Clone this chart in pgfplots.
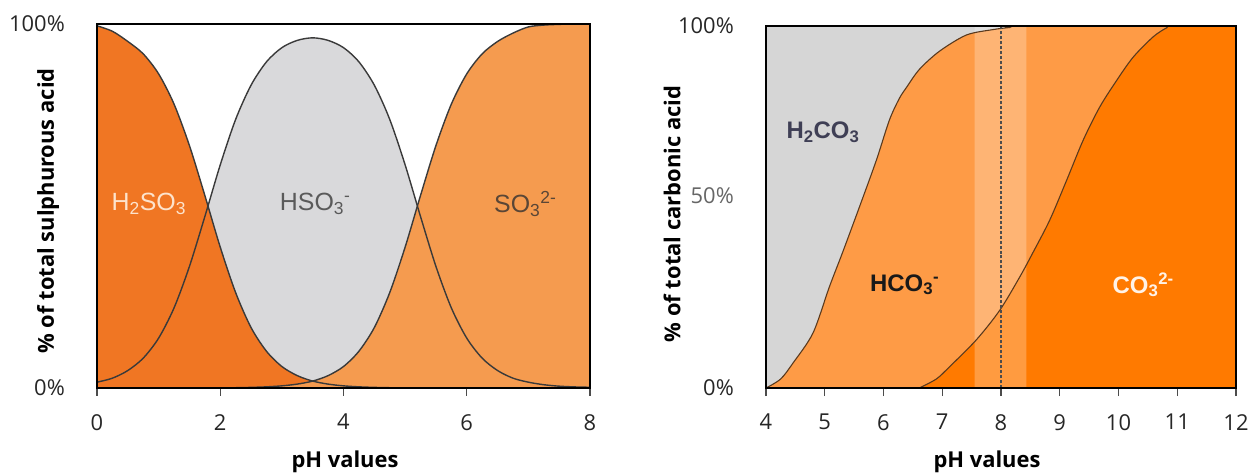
\documentclass[border=0pt]{standalone}
\usepackage{fontspec}
\setmainfont{Open Sans}
\newfontfamily\arial{Liberation Sans}
\usepackage{pgfplots}
\pgfplotsset{compat=1.18}
\definecolor{dorange}{HTML}{F07623}
\definecolor{lorange}{HTML}{F59B4F}
\definecolor{lgray}{HTML}{D9D9DB}
\definecolor{rgray}{HTML}{D6D6D6}
\definecolor{rlorange}{HTML}{FE9B46}
\definecolor{rdorange}{HTML}{FF7A00}
\definecolor{curve}{HTML}{3A3A3A}
\definecolor{rcurve}{HTML}{5A3A1E}
\definecolor{txtlight}{HTML}{FDE3CC}
\definecolor{txtgray}{HTML}{5A5A5A}
\definecolor{txtbrown}{HTML}{5A4636}
\definecolor{txtblue}{HTML}{3F3F55}
\definecolor{txtwhite}{HTML}{FFF3E8}

\pgfplotstableread{
ph   h2   hs    s
0.00 99.5 1.6   0
0.25 98.0 2.7   0
0.50 95.2 4.8   0
0.75 91.8 8.2   0
1.00 86.3 13.7  0
1.25 78.0 22.0  0
1.50 66.6 33.4  0
1.75 52.9 47.1  0.03
2.00 38.7 61.3  0.04
2.25 26.2 73.8  0.08
2.50 16.6 83.2  0.17
2.75 10.1 89.6  0.32
3.00 5.9  93.5  0.59
3.25 3.4  95.5  1.07
3.50 1.9  96.2  1.9
3.75 1.07 95.5  3.4
4.00 0.59 93.5  5.9
4.25 0.32 89.6  10.1
4.50 0.17 83.2  16.6
4.75 0.08 73.8  26.2
5.00 0.04 61.3  38.7
5.25 0.03 47.1  52.9
5.50 0    33.4  66.6
5.75 0    22.0  78.0
6.00 0    13.7  86.3
6.25 0    8.2   91.8
6.50 0    4.8   95.2
6.75 0    2.7   97.5
7.00 0    1.6   99.2
7.25 0    0.9   99.7
7.50 0    0.5   99.9
7.75 0    0.3   100
8.00 0    0.2   100
}\sulphur

\pgfplotstableread{
ph   v
4.00 0
4.25 2.5
4.46 6.9
4.80 15.2
5.08 28
5.30 37.3
5.59 50
5.88 63
6.10 74
6.27 80
6.39 83
6.61 88
6.95 93
7.41 97.5
7.86 99
8.15 99.6
8.35 100
12.0 100
}\carbA

\pgfplotstableread{
ph    v
6.61  0
6.90  2.5
7.12  5.8
7.58  13.3
7.98  21.5
8.32  30.7
8.54  37.3
8.83  46.4
9.12  57.5
9.40  68.5
9.68  77.6
9.97  85
10.25 91.4
10.59 97
10.82 99.5
10.95 100
12.0  100
}\carbB

\pgfplotsset{
  common/.style={
    scale only axis,
    anchor=south west,
    axis on top,
    axis line style={line width=2bp, black},
    tick align=outside,
    xtick pos=bottom,
    ytick pos=left,
    major tick length=8bp,
    xtick style={draw=black!70, line width=1.3bp},
    ytick style={draw=none},
    /pgf/number format/assume math mode=true,
    ticklabel style={font=\fontsize{22}{22}\selectfont, text=black!85},
    xticklabel style={inner sep=0pt, yshift=-18bp},
    yticklabel style={inner sep=0pt, xshift=-24bp},
    ymin=0, ymax=100,
  }
}

\begin{document}
\begin{tikzpicture}
\path[use as bounding box] (0bp,0bp) rectangle (1252bp,475bp);

% ---------------- left chart ----------------
\begin{axis}[common,
  at={(97bp,87bp)}, width=493bp, height=364bp,
  xmin=0, xmax=8,
  xtick={0,2,4,6,8},
  ytick={0,100}, yticklabels={0\%,100\%},
]
\addplot[fill=lgray, draw=none, smooth] table[x=ph,y=hs]{\sulphur} \closedcycle;
\addplot[fill=dorange, draw=none, smooth] table[x=ph,y=h2]{\sulphur} \closedcycle;
\addplot[fill=lorange, draw=none, smooth] table[x=ph,y=s]{\sulphur} \closedcycle;
\addplot[curve, line width=1.4bp, smooth] table[x=ph,y=hs]{\sulphur};
\addplot[curve, line width=1.4bp, smooth] table[x=ph,y=h2]{\sulphur};
\addplot[curve, line width=1.4bp, smooth] table[x=ph,y=s]{\sulphur};
\node[font=\arial\fontsize{25}{25}\selectfont, text=txtlight] at (axis cs:0.84,50.5) {H\textsubscript{2}SO\textsubscript{3}};
\node[font=\arial\fontsize{25}{25}\selectfont, text=txtgray] at (axis cs:3.54,50.5) {HSO\textsubscript{3}\textsuperscript{-}};
\node[font=\arial\fontsize{25}{25}\selectfont, text=txtbrown] at (axis cs:6.95,50.5) {SO\textsubscript{3}\textsuperscript{2-}};
\end{axis}

% ---------------- right chart ----------------
\begin{axis}[common,
  at={(766bp,87bp)}, width=470bp, height=362bp,
  xmin=4, xmax=12,
  xtick={4,5,6,7,8,9,10,11,12},
  ytick={0,53,100}, yticklabels={0\%,{\textcolor{black!60}{50\%}},100\%},
]
\addplot[fill=rgray, draw=none] coordinates {(4,0) (4,100) (12,100) (12,0)} \closedcycle;
\addplot[fill=rlorange, draw=none, smooth] table[x=ph,y=v]{\carbA} \closedcycle;
\addplot[fill=rdorange, draw=none, smooth] table[x=ph,y=v]{\carbB} \closedcycle;
\addplot[fill=white, fill opacity=0.25, draw=none] coordinates {(7.55,0) (7.55,100) (8.43,100) (8.43,0)} \closedcycle;
\addplot[rcurve, line width=1.1bp, smooth] table[x=ph,y=v]{\carbA};
\addplot[rcurve, line width=1.1bp, smooth] table[x=ph,y=v]{\carbB};
\addplot[black!70, line width=1.2bp, densely dashed] coordinates {(8,0) (8,100)};
\node[font=\arial\bfseries\fontsize{24}{24}\selectfont, text=txtblue] at (axis cs:4.97,70.7) {H\textsubscript{2}CO\textsubscript{3}};
\node[font=\arial\bfseries\fontsize{24}{24}\selectfont, text=black!90] at (axis cs:6.36,28.5) {HCO\textsubscript{3}\textsuperscript{-}};
\node[font=\arial\bfseries\fontsize{24}{24}\selectfont, text=txtwhite] at (axis cs:10.42,28.5) {CO\textsubscript{3}\textsuperscript{2-}};
\end{axis}

% axis titles
\node[rotate=90, font=\bfseries\fontsize{22}{22}\selectfont] at (48bp,264bp) {\% of total sulphurous acid};
\node[font=\bfseries\fontsize{22}{22}\selectfont] at (345bp,13bp) {pH values};
\node[rotate=90, font=\bfseries\fontsize{22}{22}\selectfont] at (672bp,261bp) {\% of total carbonic acid};
\node[font=\bfseries\fontsize{22}{22}\selectfont] at (987bp,13bp) {pH values};
\end{tikzpicture}
\end{document}
